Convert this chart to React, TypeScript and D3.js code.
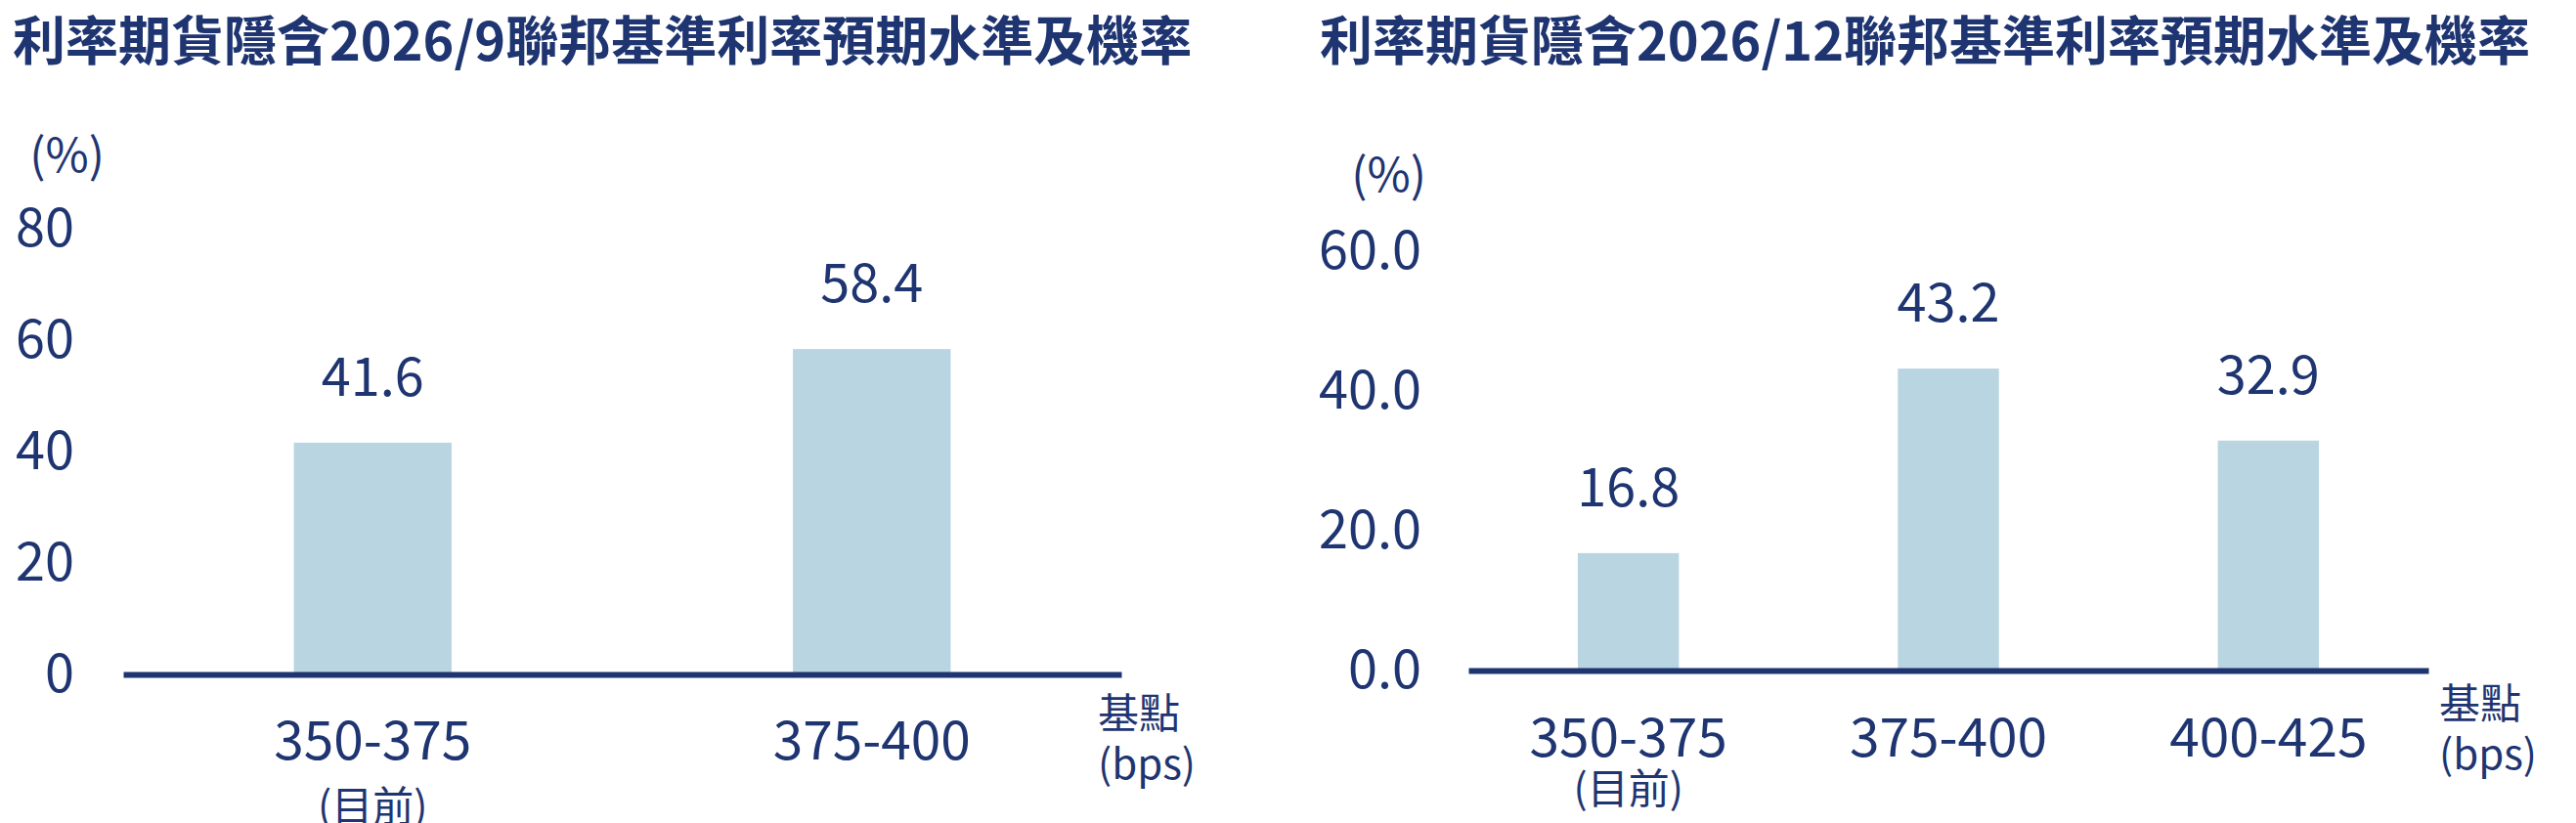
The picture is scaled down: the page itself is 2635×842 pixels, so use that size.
import React, { useEffect, useRef } from 'react';
import * as d3 from 'd3';

// September 2026 meeting
const sepTitle = '利率期貨隱含2026/9聯邦基準利率預期水準及機率';
const sepCategories = ['350-375', '375-400'];
const sepValues = [41.6, 58.4];
const sepTicks = [0, 20, 40, 60, 80];

// December 2026 meeting
const decTitle = '利率期貨隱含2026/12聯邦基準利率預期水準及機率';
const decCategories = ['350-375', '375-400', '400-425'];
const decValues = [16.8, 43.2, 32.9];
const decTicks = [0, 20, 40, 60];

const currentNote = '(目前)';
const unitTop = '(%)';
const unitLine1 = '基點';
const unitLine2 = '(bps)';

const NAVY = '#1f3571';
const BAR = '#b9d5e1';
const FONT = '"Noto Sans CJK TC", "Noto Sans", sans-serif';

interface PanelLayout {
  titleX: number;
  left: number;
  right: number;
  base: number;
  top: number;
  tickRight: number;
  pctRight: number;
  pctY: number;
  catY: number;
  noteY: number;
  unitX: number;
  unitY1: number;
  unitY2: number;
  fmt: (n: number) => string;
}

const drawPanel = (
  svg: d3.Selection<SVGSVGElement, unknown, null, undefined>,
  title: string,
  categories: string[],
  values: number[],
  ticks: number[],
  L: PanelLayout
) => {
  const g = svg.append('g').attr('font-family', FONT).attr('fill', NAVY);

  const x = d3.scaleBand().domain(categories).range([L.left, L.right])
    .paddingInner(0.684).paddingOuter(0.342);
  const y = d3.scaleLinear().domain([0, d3.max(ticks) || 1]).range([L.base, L.top]);

  g.append('text')
    .attr('x', L.titleX).attr('y', 62)
    .attr('font-size', 54).attr('font-weight', 700)
    .text(title);

  // bars
  g.selectAll('rect.bar')
    .data(values)
    .enter()
    .append('rect')
    .attr('x', (_, i) => x(categories[i]) || 0)
    .attr('y', (d) => y(d))
    .attr('width', x.bandwidth())
    .attr('height', (d) => y(0) - y(d))
    .attr('fill', BAR);

  // value labels
  g.selectAll('text.val')
    .data(values)
    .enter()
    .append('text')
    .attr('x', (_, i) => (x(categories[i]) || 0) + x.bandwidth() / 2)
    .attr('y', (d) => y(d) - 48)
    .attr('text-anchor', 'middle')
    .attr('font-size', 54)
    .text((d) => d.toFixed(1));

  // y axis labels only
  const yAxis = g.append('g')
    .attr('transform', `translate(${L.tickRight},0)`)
    .call(d3.axisLeft(y).tickValues(ticks).tickSize(0).tickPadding(0).tickFormat((d) => L.fmt(+d)));
  yAxis.select('.domain').remove();
  yAxis.attr('font-family', FONT).attr('font-size', 54);
  yAxis.selectAll('text').attr('fill', NAVY).attr('dy', '0.33em');

  // x axis: thick base line and category labels
  const xAxis = g.append('g')
    .attr('transform', `translate(0,${L.base})`)
    .call(d3.axisBottom(x).tickSize(0).tickSizeOuter(0));
  xAxis.select('.domain').attr('stroke', NAVY).attr('stroke-width', 6);
  xAxis.attr('font-family', FONT).attr('font-size', 55);
  xAxis.selectAll('text').attr('fill', NAVY).attr('y', L.catY - L.base).attr('dy', 0);

  g.append('text')
    .attr('x', (x(categories[0]) || 0) + x.bandwidth() / 2)
    .attr('y', L.noteY)
    .attr('text-anchor', 'middle')
    .attr('font-size', 42)
    .text(currentNote);

  g.append('text')
    .attr('x', L.pctRight).attr('y', L.pctY)
    .attr('text-anchor', 'end')
    .attr('font-size', 48)
    .text(unitTop);

  g.append('text').attr('x', L.unitX).attr('y', L.unitY1).attr('font-size', 42).text(unitLine1);
  g.append('text').attr('x', L.unitX).attr('y', L.unitY2).attr('font-size', 42).text(unitLine2);
};

const App: React.FC = () => {
  const svgRef = useRef<SVGSVGElement>(null);

  useEffect(() => {
    if (!svgRef.current) return;
    const svg = d3.select(svgRef.current);
    svg.selectAll('*').remove();

    drawPanel(svg, sepTitle, sepCategories, sepValues, sepTicks, {
      titleX: 13, left: 126, right: 1147, base: 690, top: 234,
      tickRight: 76, pctRight: 107, pctY: 176,
      catY: 777, noteY: 840,
      unitX: 1123, unitY1: 745, unitY2: 797,
      fmt: d3.format('d'),
    });

    drawPanel(svg, decTitle, decCategories, decValues, decTicks, {
      titleX: 1350, left: 1502, right: 2484, base: 686, top: 257,
      tickRight: 1454, pctRight: 1459, pctY: 196,
      catY: 774, noteY: 822,
      unitX: 2495, unitY1: 735, unitY2: 787,
      fmt: d3.format('.1f'),
    });
  }, []);

  return (
    <svg
      ref={svgRef}
      width={2635}
      height={842}
      style={{ position: 'absolute', left: 0, top: 0, background: '#fff' }}
    ></svg>
  );
};

export default App;
